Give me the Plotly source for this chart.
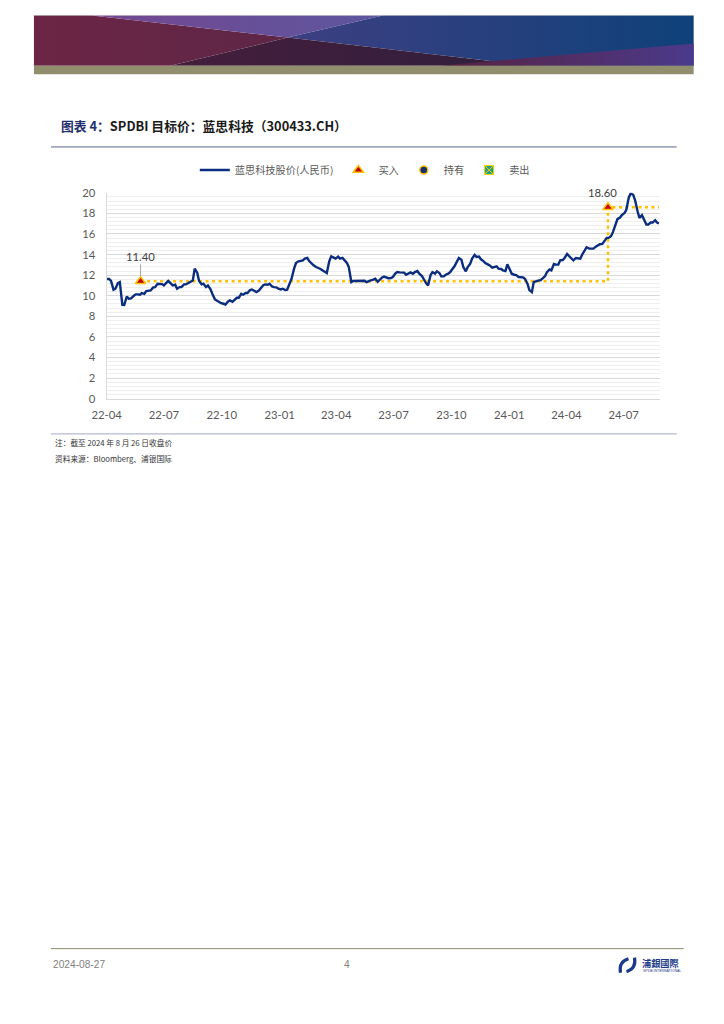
import pandas as pd
import plotly.graph_objects as go

W, H = 724, 1024
# 截图中画布的缩放与位移（由校准线测得）
SX, OX = 0.9767, 24.1
SY, OY = 0.984, 15.5

# 蓝思科技股价（人民币），每周五读数
fri_dates = [
    "2022-04-01", "2022-04-08", "2022-04-15", "2022-04-22", "2022-04-29", "2022-05-06", "2022-05-13", "2022-05-20",
    "2022-05-27", "2022-06-03", "2022-06-10", "2022-06-17", "2022-06-24", "2022-07-01", "2022-07-08", "2022-07-15",
    "2022-07-22", "2022-07-29", "2022-08-05", "2022-08-12", "2022-08-19", "2022-08-26", "2022-09-02", "2022-09-09",
    "2022-09-16", "2022-09-23", "2022-09-30", "2022-10-07", "2022-10-14", "2022-10-21", "2022-10-28", "2022-11-04",
    "2022-11-11", "2022-11-18", "2022-11-25", "2022-12-02", "2022-12-09", "2022-12-16", "2022-12-23", "2022-12-30",
    "2023-01-06", "2023-01-13", "2023-01-20", "2023-01-27", "2023-02-03", "2023-02-10", "2023-02-17", "2023-02-24",
    "2023-03-03", "2023-03-10", "2023-03-17", "2023-03-24", "2023-03-31", "2023-04-07", "2023-04-14", "2023-04-21",
    "2023-04-28", "2023-05-05", "2023-05-12", "2023-05-19", "2023-05-26", "2023-06-02", "2023-06-09", "2023-06-16",
    "2023-06-23", "2023-06-30", "2023-07-07", "2023-07-14", "2023-07-21", "2023-07-28", "2023-08-04", "2023-08-11",
    "2023-08-18", "2023-08-25", "2023-09-01", "2023-09-08", "2023-09-15", "2023-09-22", "2023-09-29", "2023-10-06",
    "2023-10-13", "2023-10-20", "2023-10-27", "2023-11-03", "2023-11-10", "2023-11-17", "2023-11-24", "2023-12-01",
    "2023-12-08", "2023-12-15", "2023-12-22", "2023-12-29", "2024-01-05", "2024-01-12", "2024-01-19", "2024-01-26",
    "2024-02-02", "2024-02-09", "2024-02-16", "2024-02-23", "2024-03-01", "2024-03-08", "2024-03-15", "2024-03-22",
    "2024-03-29", "2024-04-05", "2024-04-12", "2024-04-19", "2024-04-26", "2024-05-03", "2024-05-10", "2024-05-17",
    "2024-05-24", "2024-05-31", "2024-06-07", "2024-06-14", "2024-06-21", "2024-06-28", "2024-07-05", "2024-07-12",
    "2024-07-19", "2024-07-26", "2024-08-02", "2024-08-09", "2024-08-16", "2024-08-23", "2024-08-26",
]
fri_close = [
    11.62, 11.45, 10.68, 11.33, 9.10, 9.70, 9.93, 10.13,
    10.26, 10.45, 10.51, 10.84, 11.17, 11.00, 11.43, 11.00,
    10.68, 10.84, 11.10, 11.33, 12.63, 11.43, 11.17, 11.00,
    10.19, 9.54, 9.28, 9.15, 9.54, 9.60, 9.80, 10.10,
    10.26, 10.61, 10.35, 10.78, 11.10, 11.17, 10.84, 10.68,
    10.68, 10.58, 11.65, 13.18, 13.37, 13.60, 13.37, 12.95,
    12.73, 12.47, 12.21, 13.83, 13.60, 13.60, 13.44, 12.79,
    11.43, 11.43, 11.49, 11.33, 11.49, 11.65, 11.56, 11.86,
    11.70, 11.82, 12.30, 12.27, 12.04, 12.27, 12.30, 12.14,
    11.56, 11.00, 12.30, 12.37, 11.88, 12.04, 12.30, 12.86,
    13.67, 12.79, 12.79, 13.60, 13.77, 13.54, 13.18, 12.95,
    12.79, 12.63, 12.47, 13.05, 12.14, 12.01, 11.80, 11.65,
    10.55, 11.33, 11.46, 11.72, 12.30, 12.46, 13.02, 13.44,
    13.67, 13.86, 13.44, 13.61, 14.00, 14.71, 14.58, 14.74,
    15.00, 15.29, 15.62, 16.20, 17.44, 17.83, 18.32, 19.94,
    19.29, 17.57, 17.50, 16.92, 17.11, 17.11, 17.02,
]

# 每周二读数
tue_dates = [
    "2022-04-05", "2022-04-12", "2022-04-19", "2022-04-26", "2022-05-03", "2022-05-10", "2022-05-17", "2022-05-24",
    "2022-05-31", "2022-06-07", "2022-06-14", "2022-06-21", "2022-06-28", "2022-07-05", "2022-07-12", "2022-07-19",
    "2022-07-26", "2022-08-02", "2022-08-09", "2022-08-16", "2022-08-23", "2022-08-30", "2022-09-06", "2022-09-13",
    "2022-09-20", "2022-09-27", "2022-10-04", "2022-10-11", "2022-10-18", "2022-10-25", "2022-11-01", "2022-11-08",
    "2022-11-15", "2022-11-22", "2022-11-29", "2022-12-06", "2022-12-13", "2022-12-20", "2022-12-27", "2023-01-03",
    "2023-01-10", "2023-01-17", "2023-01-24", "2023-01-31", "2023-02-07", "2023-02-14", "2023-02-21", "2023-02-28",
    "2023-03-07", "2023-03-14", "2023-03-21", "2023-03-28", "2023-04-04", "2023-04-11", "2023-04-18", "2023-04-25",
    "2023-05-02", "2023-05-09", "2023-05-16", "2023-05-23", "2023-05-30", "2023-06-06", "2023-06-13", "2023-06-20",
    "2023-06-27", "2023-07-04", "2023-07-11", "2023-07-18", "2023-07-25", "2023-08-01", "2023-08-08", "2023-08-15",
    "2023-08-22", "2023-08-29", "2023-09-05", "2023-09-12", "2023-09-19", "2023-09-26", "2023-10-03", "2023-10-10",
    "2023-10-17", "2023-10-24", "2023-10-31", "2023-11-07", "2023-11-14", "2023-11-21", "2023-11-28", "2023-12-05",
    "2023-12-12", "2023-12-19", "2023-12-26", "2024-01-02", "2024-01-09", "2024-01-16", "2024-01-23", "2024-01-30",
    "2024-02-06", "2024-02-13", "2024-02-20", "2024-02-27", "2024-03-05", "2024-03-12", "2024-03-19", "2024-03-26",
    "2024-04-02", "2024-04-09", "2024-04-16", "2024-04-23", "2024-04-30", "2024-05-07", "2024-05-14", "2024-05-21",
    "2024-05-28", "2024-06-04", "2024-06-11", "2024-06-18", "2024-06-25", "2024-07-02", "2024-07-09", "2024-07-16",
    "2024-07-23", "2024-07-30", "2024-08-06", "2024-08-13", "2024-08-20",
]
tue_close = [
    11.62, 10.58, 11.23, 9.12, 9.93, 9.74, 10.13, 10.10,
    10.19, 10.48, 10.81, 11.17, 11.13, 11.30, 11.20, 11.07,
    10.84, 11.10, 11.23, 11.49, 12.24, 11.10, 10.84, 10.65,
    9.67, 9.38, 9.22, 9.44, 9.41, 9.80, 10.19, 10.26,
    10.55, 10.45, 10.51, 11.03, 11.07, 10.90, 10.81, 10.61,
    10.55, 11.17, 12.63, 13.34, 13.44, 13.67, 13.08, 12.79,
    12.60, 12.30, 13.37, 13.70, 13.80, 13.67, 13.18, 11.33,
    11.43, 11.43, 11.46, 11.46, 11.56, 11.36, 11.78, 11.75,
    11.72, 12.17, 12.27, 12.24, 12.17, 12.14, 12.40, 11.94,
    11.20, 12.01, 12.14, 12.21, 11.88, 12.14, 12.56, 13.34,
    13.50, 12.37, 13.11, 13.96, 13.80, 13.37, 13.05, 12.73,
    12.86, 12.60, 12.40, 12.50, 12.04, 11.82, 11.78, 11.17,
    10.35, 11.43, 11.52, 11.91, 12.56, 13.08, 13.02, 13.47,
    14.06, 13.60, 13.67, 13.60, 14.48, 14.58, 14.58, 14.87,
    15.03, 15.62, 15.81, 17.01, 17.60, 18.02, 19.52, 19.81,
    18.21, 17.83, 16.92, 17.11, 17.34,
]

# SPDBI 目标价（买入）
target_dates = ["2022-05-25", "2024-06-06", "2024-08-26"]
target_prices = [11.40, 18.60, 18.60]
buy_dates = ["2022-05-25", "2024-06-06"]
buy_prices = [11.40, 18.60]

x_ticks = ["2022-04-01", "2022-07-01", "2022-10-01", "2023-01-01", "2023-04-01",
           "2023-07-01", "2023-10-01", "2024-01-01", "2024-04-01", "2024-07-01"]
x_labels = ["22-04", "22-07", "22-10", "23-01", "23-04", "23-07", "23-10", "24-01", "24-04", "24-07"]
y_ticks = [0, 2, 4, 6, 8, 10, 12, 14, 16, 18, 20]

NAVY = "#0b2d80"
GOLD = "#ffc000"
CJK = "Noto Sans CJK SC"


def fx(x):
    # 截图像素 -> paper 坐标
    return (x - OX) / SX / W


def fy(y):
    return 1 - (y - OY) / SY / H


def fs(size):
    # 抵消截图缩放后的字号
    return round(size / SX, 1)


def add_banner(fig):
    # 页眉色块，像素坐标画在隐藏的 x2/y2 上
    polys = [
        ([35, 93, 288, 171, 35], [16, 16, 38, 66, 66], ["#6c2545", "#5e2647"]),
        ([93, 383, 288], [16, 16, 38], ["#74478f", "#5d56a0"]),
        ([383, 693, 693, 530, 288], [16, 16, 66, 66, 38], ["#3d3f82", "#0f4179"]),
        ([171, 288, 530], [66, 38, 66], ["#451e3c", "#2f1f3d"]),
        ([440, 693, 693], [66, 44, 66], ["#58213f", "#4b3a8b"]),
        ([35, 693, 693, 35], [66, 66, 74.5, 74.5], ["#918e6e", "#918e6e"]),
    ]
    for xs, ys, cols in polys:
        fig.add_trace(go.Scatter(
            x=xs, y=ys, xaxis="x2", yaxis="y2", mode="lines", fill="toself",
            line=dict(width=0, color="rgba(0,0,0,0)"),
            fillgradient=dict(type="horizontal", colorscale=[[0, cols[0]], [1, cols[1]]]),
            showlegend=False, hoverinfo="skip",
        ))


def stock_chart():
    df = pd.concat([
        pd.DataFrame({"date": fri_dates, "close": fri_close}),
        pd.DataFrame({"date": tue_dates, "close": tue_close}),
    ]).sort_values("date")

    fig = go.Figure()
    add_banner(fig)

    fig.add_trace(go.Scatter(
        x=target_dates, y=target_prices, mode="lines",
        line=dict(color=GOLD, width=2.5, dash="3px,3.5px", shape="hv"),
        showlegend=False, hoverinfo="skip",
    ))
    fig.add_trace(go.Scatter(
        x=df["date"], y=df["close"], mode="lines",
        line=dict(color=NAVY, width=2.4), name="蓝思科技股价(人民币)",
    ))
    fig.add_trace(go.Scatter(
        x=buy_dates, y=buy_prices, mode="markers", name="买入",
        marker=dict(symbol="triangle-up", size=9, color="#c00000", line=dict(color=GOLD, width=1.5)),
    ))
    fig.add_trace(go.Scatter(
        x=[None], y=[None], mode="markers", name="持有",
        marker=dict(symbol="circle", size=8, color="#14306e", line=dict(color=GOLD, width=1.5)),
    ))
    fig.add_trace(go.Scatter(
        x=[None], y=[None], mode="markers", name="卖出",
        marker=dict(symbol="square-x", size=9, color="#1f9e89", line=dict(color="#f5d000", width=1)),
    ))

    tick_font = dict(family="Lato", size=fs(11), color="#595959")
    fig.update_layout(
        width=W, height=H, autosize=False,
        margin=dict(l=0, r=0, t=0, b=0),
        paper_bgcolor="white", plot_bgcolor="rgba(0,0,0,0)",
        xaxis=dict(
            domain=[fx(107.5), fx(659)], type="date", range=["2022-04-01", "2024-08-27"],
            tickvals=x_ticks, ticktext=x_labels, showgrid=False, zeroline=False,
            showline=True, linecolor="#d9d9d9", ticks="", tickfont=tick_font,
            ticklabelstandoff=6, anchor="y",
        ),
        yaxis=dict(
            domain=[fy(397.9), fy(192.7)], range=[0, 20], tickvals=y_ticks,
            showgrid=True, gridcolor="#d9d9d9", zeroline=False,
            minor=dict(dtick=0.4, showgrid=True, gridcolor="#efefef"),
            showline=True, linecolor="#d9d9d9", ticks="", tickfont=tick_font,
            ticklabelstandoff=8, anchor="x",
        ),
        xaxis2=dict(domain=[0, 1], range=[OX, OX + SX * W], visible=False, anchor="y2"),
        yaxis2=dict(domain=[0, 1], range=[OY + SY * H, OY], visible=False, anchor="x2"),
        legend=dict(
            orientation="h", x=fx(365), xanchor="center", y=fy(170), yanchor="middle",
            font=dict(family=CJK, size=fs(10), color="#595959"), bgcolor="rgba(0,0,0,0)",
            itemwidth=30, traceorder="normal",
        ),
        showlegend=True,
    )

    # 数据标签
    fig.add_annotation(
        x=buy_dates[0], y=buy_prices[0], text=f"{buy_prices[0]:.2f}",
        showarrow=True, arrowhead=0, arrowwidth=1, arrowcolor="#a6a6a6",
        ax=0, ay=-25, standoff=5, font=dict(family="Lato", size=fs(11), color="#404040"),
    )
    fig.add_annotation(
        x=buy_dates[1], y=buy_prices[1], text=f"{buy_prices[1]:.2f}",
        showarrow=False, xshift=-5, yshift=15, font=dict(family="Lato", size=fs(11), color="#404040"),
    )

    # 页面元素
    shapes = [
        dict(type="line", x0=fx(52), x1=fx(676), y0=fy(147), y1=fy(147), line=dict(color="#5b6591", width=1)),
        dict(type="line", x0=fx(52), x1=fx(676), y0=fy(433), y1=fy(433), line=dict(color="#a3a6c6", width=1)),
        dict(type="line", x0=fx(52), x1=fx(683), y0=fy(946), y1=fy(946), line=dict(color="#8c8a6a", width=1)),
        dict(type="path", path=f"M {fx(628)},{fy(956)} Q {fx(618)},{fy(959)} {fx(620)},{fy(970)}",
             line=dict(color="#1a3a8a", width=3.2)),
        dict(type="path", path=f"M {fx(626)},{fy(969)} Q {fx(636)},{fy(966)} {fx(634)},{fy(955)}",
             line=dict(color="#1a3a8a", width=3.2)),
    ]
    for s in shapes:
        fig.add_shape(xref="paper", yref="paper", **s)

    texts = [
        (60, 126, "<b><span style='color:#1f2f6e'>图表 4：</span>SPDBI 目标价：蓝思科技（300433.CH）</b>",
         dict(family=CJK, size=fs(12.5), color="#1a1a1a"), "left"),
        (54, 442, "注：截至 2024 年 8 月 26 日收盘价", dict(family=CJK, size=fs(7.5), color="#333333"), "left"),
        (54, 458, "资料来源：Bloomberg、浦银国际", dict(family=CJK, size=fs(7.5), color="#333333"), "left"),
        (52, 962, "2024-08-27", dict(family="Liberation Sans", size=fs(10), color="#808080"), "left"),
        (347, 962, "4", dict(family="Liberation Sans", size=fs(10), color="#808080"), "center"),
        (639, 960, "<b>浦銀國際</b>", dict(family="Noto Sans CJK TC", size=fs(9), color="#1a3a8a"), "left"),
        (640, 968, "SPDB INTERNATIONAL", dict(family="Liberation Sans", size=3.5, color="#1a3a8a"), "left"),
    ]
    for x, y, t, f, anchor in texts:
        fig.add_annotation(
            x=fx(x), y=fy(y), xref="paper", yref="paper", text=t, showarrow=False,
            xanchor=anchor, yanchor="middle", font=f,
        )

    return fig


fig = stock_chart()
fig.write_html("out.html")
